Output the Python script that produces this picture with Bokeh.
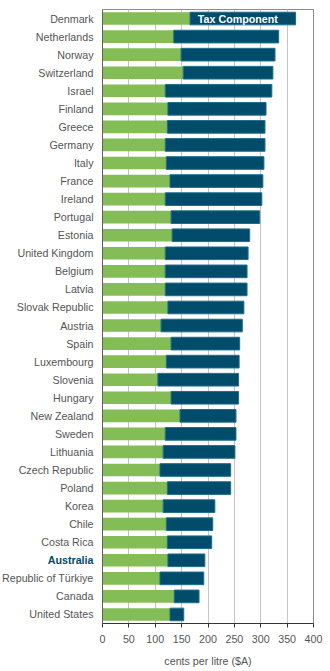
from bokeh.plotting import figure
from bokeh.models import ColumnDataSource, FactorRange, FixedTicker, LabelSet, Span
from bokeh.layouts import row
from bokeh.core.properties import value, field
from bokeh.embed import file_html
from bokeh.resources import INLINE

countries = ["Denmark", "Netherlands", "Norway", "Switzerland", "Israel", "Finland",
             "Greece", "Germany", "Italy", "France", "Ireland", "Portugal", "Estonia",
             "United Kingdom", "Belgium", "Latvia", "Slovak Republic", "Austria", "Spain",
             "Luxembourg", "Slovenia", "Hungary", "New Zealand", "Sweden", "Lithuania",
             "Czech Republic", "Poland", "Korea", "Chile", "Costa Rica", "Australia",
             "Republic of Türkiye", "Canada", "United States"]
non_tax = [166, 135, 149, 153, 119, 124, 123, 119, 121, 128, 119, 130, 132, 119, 119, 119,
           124, 111, 130, 121, 105, 130, 147, 119, 115, 109, 123, 115, 121, 123, 124, 109,
           136, 128]
tax = [200, 199, 178, 170, 202, 186, 185, 189, 185, 176, 183, 168, 147, 157, 155, 155,
       144, 154, 130, 138, 153, 128, 106, 134, 136, 134, 120, 98, 88, 84, 70, 83, 47, 26]
x_ticks = [0, 50, 100, 150, 200, 250, 300, 350, 400]
highlight = "Australia"
series_label = "Tax Component"
x_title = "cents per litre ($A)"

GREEN = "#84bc56"
BLUE = "#014b6b"
BLUE_EDGE = "#1c6d8e"
TEXT = "#555555"
FONT = "Liberation Sans"
FS = "10px"
FS_LAB = "10.7px"

total = [a + b for a, b in zip(non_tax, tax)]
src = ColumnDataSource(dict(
    country=countries, non_tax=non_tax, tax=tax, total=total, zero=[0] * len(countries),
    color=[BLUE if c == highlight else TEXT for c in countries],
    style=["bold" if c == highlight else "normal" for c in countries],
    lx=[1] * len(countries)))

yr = FactorRange(factors=list(reversed(countries)), range_padding=0)

# ---- left panel: category labels ----
LEFT_W = 96
pl = figure(width=LEFT_W, height=671, output_backend="svg", toolbar_location=None,
            y_range=yr, x_range=(0, 1),
            min_border_left=0, min_border_right=0, min_border_top=9, min_border_bottom=48)
pl.axis.visible = False
pl.grid.grid_line_color = None
pl.outline_line_color = None
pl.text(x="lx", y="country", text="country", source=src, text_align="right",
        text_baseline="middle", x_offset=-3, text_color="color",
        text_font_style=field("style"), text_font=value(FONT), text_font_size=value(FS_LAB))

# ---- right panel: bars ----
p = figure(width=330 - LEFT_W, height=671, output_backend="svg", toolbar_location=None,
           y_range=yr, x_range=(0, 400),
           min_border_left=6, min_border_right=17, min_border_top=9, min_border_bottom=48)

p.hbar(y="country", left="zero", right="non_tax", height=0.70, source=src,
       fill_color=GREEN, line_color=None)
p.hbar(y="country", left="non_tax", right="total", height=0.70, source=src,
       fill_color=BLUE, line_color=BLUE_EDGE, line_width=1)

i0 = 0
lab_src = ColumnDataSource(dict(x=[(non_tax[i0] + total[i0]) / 2], y=[countries[i0]],
                                text=[series_label]))
p.add_layout(LabelSet(x="x", y="y", text="text", source=lab_src,
                      text_align="center", text_baseline="middle", x_offset=-5,
                      text_color="white", text_font=value(FONT),
                      text_font_style="bold", text_font_size=value(FS_LAB)))

p.outline_line_color = "#8c8c8c"
p.outline_line_width = 1
p.ygrid.grid_line_color = None
p.xgrid.grid_line_color = "#c4c4c4"
p.xgrid.ticker = FixedTicker(ticks=x_ticks)
p.yaxis.visible = False
p.add_layout(Span(location=0, dimension="height", line_color="#333333", line_width=1))

xa = p.xaxis[0]
xa.ticker = FixedTicker(ticks=x_ticks)
xa.axis_label = x_title
xa.axis_label_text_font = FONT
xa.axis_label_text_font_size = FS_LAB
xa.axis_label_text_font_style = "normal"
xa.axis_label_text_color = TEXT
xa.axis_label_standoff = 9
xa.major_label_text_font = FONT
xa.major_label_text_font_size = FS_LAB
xa.major_label_text_color = TEXT
xa.major_label_standoff = 7
xa.axis_line_color = "#333333"
xa.major_tick_line_color = "#333333"
xa.major_tick_out = 4
xa.major_tick_in = 0
xa.minor_tick_line_color = None

layout = row(pl, p, spacing=0)
open("out.html", "w").write(file_html(layout, INLINE))
